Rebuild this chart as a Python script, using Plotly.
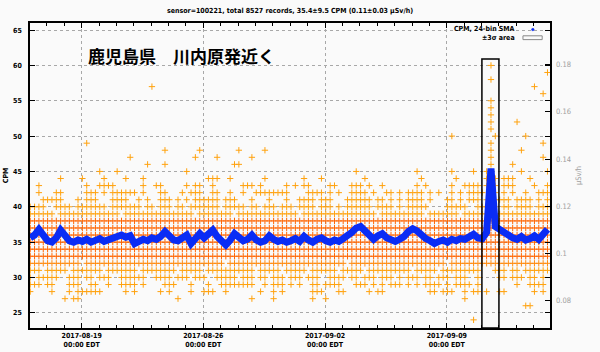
import pandas as pd
import plotly.graph_objects as go

# ---------------- data ----------------
TITLE = "sensor=100221, total 8527 records, 35.4±9.5 CPM (0.11±0.03 µSv/h)"
LOCATION = "鹿児島県　川内原発近く"
LEGEND_SMA = "CPM, 24-bin SMA"
LEGEND_AREA = "±3σ area"
Y_TITLE = "CPM"
Y2_TITLE = "µSv/h"

BIN_START = "2017-08-16 01:00"   # time of bin 0
BIN_HOURS = 6                      # bins of 6 hours
X_RANGE = ["2017-08-16 00:42", "2017-09-14 22:29"]
X_TICK0 = "2017-08-19"
Y_RANGE = [22.85, 66.0]
Y_TICKS = [25, 30, 35, 40, 45, 50, 55, 60, 65]
CPM_PER_USVH = 334.0
Y2_TICKS = [0.08, 0.10, 0.12, 0.14, 0.16, 0.18]
SPIKE_BOX_X = ["2017-09-11 00:30", "2017-09-12 00:00"]
SPIKE_BOX_TOP = 60.9

# raw CPM readings, sparse count levels: bins where that count was recorded
SPARSE_ROWS = {
    60: [106],
    59: [119],
    58: [106],
    57: [28, 116],
    56: [118],
    55: [106],
    54: [106],
    53: [106],
    52: [106, 112],
    51: [106],
    50: [97, 107, 114],
    49: [13, 106, 118],
    48: [31, 39, 48, 54, 106, 113],
    47: [23, 38, 43, 51, 106, 118],
    46: [27, 31, 47, 48, 106, 111],
    45: [16, 20, 36, 75, 89, 97, 102, 105, 106, 113, 119],
    44: [7, 12, 17, 22, 26, 41, 42, 43, 46, 54, 63, 67, 77, 90, 98, 105, 106, 107,
         109, 110, 111, 115],
    43: [2, 13, 16, 17, 18, 19, 26, 29, 30, 36, 38, 39, 42, 49, 50, 51, 53, 59, 61,
         63, 64, 69, 70, 74, 75, 76, 78, 81, 89, 91, 97, 100, 101, 102, 103, 105,
         106, 107, 109, 110, 111, 116, 119],
    42: [2, 6, 7, 13, 14, 15, 17, 19, 20, 21, 22, 23, 24, 26, 30, 31, 35, 37, 38, 39,
         42, 43, 46, 49, 52, 53, 54, 55, 56, 57, 58, 59, 64, 65, 66, 67, 69, 71, 74,
         75, 76, 77, 79, 82, 83, 85, 87, 88, 89, 90, 92, 94, 97, 99, 101, 102, 103,
         104, 106, 107, 109, 111, 114, 117, 118, 119],
    41: [3, 4, 5, 6, 7, 11, 13, 14, 15, 19, 20, 21, 22, 25, 27, 30, 31, 32, 34, 36,
         38, 39, 40, 41, 42, 43, 45, 46, 47, 51, 55, 59, 62, 63, 64, 65, 67, 68, 69,
         73, 74, 75, 76, 77, 78, 80, 81, 83, 85, 87, 88, 89, 90, 92, 96, 97, 99, 101,
         102, 103, 105, 106, 107, 108, 109, 110, 112, 113, 114, 115, 117, 119],
    29: [0, 1, 2, 4, 5, 9, 10, 11, 14, 15, 18, 21, 22, 23, 24, 26, 31, 32, 33, 37,
         41, 44, 45, 46, 47, 48, 49, 50, 51, 54, 56, 57, 58, 60, 62, 65, 66, 68, 69,
         70, 71, 75, 76, 77, 79, 81, 83, 84, 85, 87, 89, 91, 92, 93, 94, 96, 98, 99,
         100, 101, 103, 112, 115, 116, 117, 118],
    28: [0, 5, 9, 11, 12, 13, 14, 15, 16, 22, 24, 30, 32, 37, 40, 41, 42, 45, 53, 56,
         58, 65, 66, 67, 71, 72, 78, 80, 81, 92, 93, 95, 96, 97, 100, 102, 103, 105,
         108, 109, 116, 118],
    27: [8, 10, 11, 34, 51, 56, 65, 68, 100],
    26: [114, 115],
    24: [102],
}

# dense count levels: a reading in every bin except the listed gaps
DENSE_ROWS_LIGHT = {
    40: [4, 5, 10, 18, 26, 29, 33, 36, 44, 50, 53, 57, 61, 66, 70, 72, 79, 84, 86,
         92, 93, 94, 95, 101, 102, 108, 111, 116],
    39: [6, 21, 38, 47, 62, 80, 91, 99],
    31: [3, 9, 17, 25, 34, 40, 52, 58, 64, 71, 77, 88, 94, 104, 105, 106, 110, 113],
    30: [1, 7, 8, 12, 15, 19, 20, 27, 28, 33, 37, 41, 42, 48, 52, 55, 59, 63, 67, 68,
         73, 76, 80, 84, 86, 90, 93, 97, 101, 102, 104, 105, 106, 107, 110, 114, 117,
         119],
}
DENSE_ROWS_MID = {
    32: [12, 45, 73, 96],
}
DENSE_ROWS_DARK = {
    38: [], 37: [], 36: [], 35: [], 34: [], 33: [],
}

# 24-bin simple moving average of CPM, one value per 6-hour bin
SMA = [
    35.6, 36.0, 36.8, 35.9, 35.2, 35.0, 35.6, 36.7, 35.8, 35.2,
    35.0, 35.3, 35.1, 35.4, 35.0, 35.2, 35.5, 35.1, 35.3, 35.6,
    35.8, 36.0, 35.7, 35.9, 34.8, 35.1, 35.4, 35.2, 35.6, 35.4,
    35.8, 36.5, 35.9, 35.3, 35.2, 35.6, 36.0, 34.8, 35.4, 36.2,
    35.6, 36.1, 36.7, 35.8, 35.2, 34.6, 35.3, 36.2, 35.7, 35.2,
    35.4, 36.0, 35.3, 35.0, 35.2, 35.9, 35.4, 35.1, 35.3, 35.0,
    35.2, 35.5, 35.1, 35.8, 35.3, 35.0, 35.4, 35.6, 35.2, 35.0,
    35.3, 35.1, 35.5, 35.9, 36.4, 37.0, 37.2, 36.6, 35.8, 35.4,
    35.9, 36.2, 35.6, 35.3, 35.1, 35.4, 35.8, 36.5, 36.9, 36.6,
    36.0, 35.5, 35.2, 34.8, 35.1, 35.3, 35.0, 35.4, 35.2, 35.5,
    35.4, 35.7, 36.1, 35.6, 35.5, 36.4, 45.4, 37.2, 36.7, 36.4,
    36.0, 35.6, 35.4, 35.8, 35.3, 35.5, 35.9, 35.4, 36.0, 36.8,
]
N_BINS = len(SMA)

# ---------------- build ----------------
t0 = pd.Timestamp(BIN_START)
bin_times = [t0 + pd.Timedelta(hours=BIN_HOURS * i) for i in range(N_BINS)]


def rows_to_points(rows, dense):
    xs, ys = [], []
    for level, idx in rows.items():
        bins = [i for i in range(N_BINS) if i not in set(idx)] if dense else idx
        for i in bins:
            xs.append(bin_times[i])
            ys.append(level)
    return xs, ys


FONT = "Liberation Sans Narrow, DejaVu Sans Condensed, Arial Narrow, sans-serif"
FS = 7
LIGHT = "#ffa20e"
MID = "#ff8a0c"
DARK = "#ff6400"
BLUE = "#0a2cf5"
BOLD = dict(family=FONT, size=FS, color="black", weight="bold")

fig = go.Figure()

groups = [
    (SPARSE_ROWS, False, LIGHT),
    (DENSE_ROWS_LIGHT, True, LIGHT),
    (DENSE_ROWS_MID, True, MID),
    (DENSE_ROWS_DARK, True, DARK),
]
for rows, dense, col in groups:
    xs, ys = rows_to_points(rows, dense)
    fig.add_trace(go.Scatter(
        x=xs, y=ys, mode="markers", showlegend=False, hoverinfo="skip",
        marker=dict(symbol="cross-thin", size=4.5, line=dict(width=1.0, color=col)),
    ))

fig.add_trace(go.Scatter(
    x=bin_times, y=SMA, mode="lines", showlegend=False, hoverinfo="skip",
    line=dict(color=BLUE, width=7),
))

# invisible trace to anchor the right-hand µSv/h axis
fig.add_trace(go.Scatter(
    x=[bin_times[0]], y=[SMA[0] / CPM_PER_USVH], yaxis="y2", mode="markers",
    marker=dict(opacity=0), showlegend=False, hoverinfo="skip",
))

axis_common = dict(
    showline=True, linecolor="black", linewidth=1.5, mirror="ticks",
    ticks="inside", tickcolor="black", tickwidth=1.2,
    zeroline=False, automargin=False,
)

fig.update_layout(
    width=600, height=352, autosize=False,
    margin=dict(l=30, r=50, t=23, b=24),
    paper_bgcolor="#fafafa", plot_bgcolor="#fafafa",
    font=dict(family=FONT, size=FS, color="black"),
    title=dict(text=TITLE, x=0.5, xref="paper", xanchor="center",
               y=1 - 11 / 352, yref="container", yanchor="middle",
               font=BOLD, automargin=False),
    xaxis=dict(
        type="date", range=X_RANGE, tick0=X_TICK0, dtick=7 * 86400000,
        tickformat="%Y-%m-%d<br>%H:%M EDT", ticklen=5,
        showgrid=True, gridcolor="#a8a8a8", griddash="dot", gridwidth=1,
        minor=dict(dtick=86400000, tick0=X_TICK0, ticks="inside", ticklen=3,
                   tickcolor="black", showgrid=False),
        tickfont=BOLD,
        ticklabelstandoff=0,
        **axis_common,
    ),
    yaxis=dict(
        range=Y_RANGE, tickvals=Y_TICKS, ticklen=5,
        showgrid=True, gridcolor="#a8a8a8", griddash="dot", gridwidth=1,
        tickfont=BOLD,
        ticklabelstandoff=5,
        title=dict(text=Y_TITLE, standoff=4, font=BOLD),
        **axis_common,
    ),
    yaxis2=dict(
        overlaying="y", side="right", automargin=False,
        range=[Y_RANGE[0] / CPM_PER_USVH, Y_RANGE[1] / CPM_PER_USVH],
        tickvals=Y2_TICKS, tickformat="~g",
        ticks="inside", ticklen=5, tickcolor="black", tickwidth=1.2,
        showgrid=False, zeroline=False, showline=False,
        tickfont=dict(family=FONT, size=FS + 0.5, color="#a0a0a0"),
        ticklabelstandoff=5,
        title=dict(text=Y2_TITLE, standoff=5,
                   font=dict(family=FONT, size=FS + 0.5, color="#a0a0a0")),
    ),
    showlegend=False,
)

# box around the spike
fig.add_shape(type="rect", xref="x", yref="y",
              x0=SPIKE_BOX_X[0], x1=SPIKE_BOX_X[1],
              y0=Y_RANGE[0], y1=SPIKE_BOX_TOP,
              line=dict(color="black", width=1.5), fillcolor="rgba(0,0,0,0)")

# location label
fig.add_annotation(text=LOCATION, xref="paper", yref="paper",
                   x=0.2923, y=0.895, xanchor="center", yanchor="middle",
                   showarrow=False,
                   font=dict(family="Noto Sans CJK JP", size=17, color="black",
                             weight="bold"))

# gnuplot-style key (text left, sample right)
fig.add_annotation(text=LEGEND_SMA, xref="paper", yref="paper",
                   x=0.9365, y=0.9787, xanchor="right", yanchor="middle",
                   showarrow=False, font=BOLD)
fig.add_annotation(text=LEGEND_AREA, xref="paper", yref="paper",
                   x=0.9365, y=0.9508, xanchor="right", yanchor="middle",
                   showarrow=False, font=BOLD)
fig.add_shape(type="circle", xref="paper", yref="paper",
              x0=0.9645, x1=0.9695, y0=0.9745, y1=0.9825,
              line=dict(color=BLUE, width=0.5), fillcolor=BLUE)
fig.add_shape(type="rect", xref="paper", yref="paper",
              x0=0.948, x1=0.985, y0=0.9455, y1=0.958,
              line=dict(color="#888888", width=1), fillcolor="rgba(0,0,0,0)")

fig.write_html("out.html")
